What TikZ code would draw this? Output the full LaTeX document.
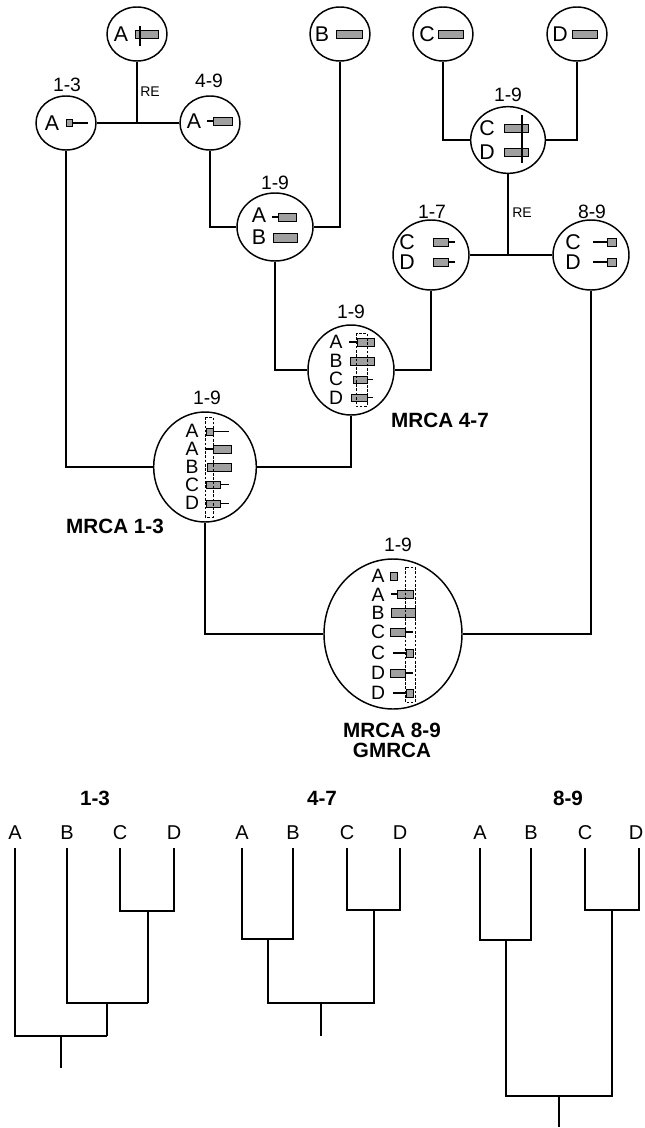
\documentclass[tikz,border=0pt]{standalone}
\usepackage{fontspec}
\setmainfont{Liberation Sans}
\usetikzlibrary{shapes.geometric}
\definecolor{barfill}{RGB}{160,160,160}
\begin{document}
\begin{tikzpicture}[x=0.75pt,y=-0.75pt,
  ell/.style={draw, ellipse, line width=1.1pt, inner sep=0pt},
  conn/.style={line width=1.5pt},
  lab/.style={font=\fontsize{14.5}{14.5}\selectfont, inner sep=0pt},
  let/.style={font=\fontsize{16}{16}\selectfont, inner sep=0pt},
  slet/.style={font=\fontsize{14.5}{14.5}\selectfont, inner sep=0pt},
  bar/.style={draw, fill=barfill, line width=0.7pt},
  tick/.style={line width=1.1pt},
  cut/.style={line width=1.6pt},
  dbox/.style={draw, line width=0.6pt, dash pattern=on 2pt off 1.2pt},
  big/.style={font=\fontsize{15.5}{15.5}\selectfont\bfseries, inner sep=0pt},
  tree/.style={line width=1.6pt},
  relab/.style={font=\fontsize{10.5}{10.5}\selectfont, inner sep=0pt},
  tlet/.style={font=\fontsize{15}{15}\selectfont, inner sep=0pt}
]
\useasboundingbox (0,0) rectangle (644,1128);

% ---------- ellipses ----------
\node[ell, minimum width=45pt, minimum height=40.5pt] (tA) at (137,34) {};
\node[ell, minimum width=45pt, minimum height=40.5pt] (tB) at (340,34) {};
\node[ell, minimum width=45pt, minimum height=40.5pt] (tC) at (443,34) {};
\node[ell, minimum width=45pt, minimum height=40.5pt] (tD) at (577,34) {};
\node[ell, minimum width=45pt, minimum height=40.5pt] (e13) at (66,123) {};
\node[ell, minimum width=45pt, minimum height=40.5pt] (e49) at (210,123) {};
\node[ell, minimum width=57pt, minimum height=51pt] (eAB) at (275,227) {};
\node[ell, minimum width=56pt, minimum height=50pt] (eCD) at (508,140) {};
\node[ell, minimum width=57pt, minimum height=52.5pt] (e17) at (431,255) {};
\node[ell, minimum width=57pt, minimum height=52.5pt] (e89) at (591,255) {};
\node[ell, minimum width=64.5pt, minimum height=67.5pt] (m47) at (351,370) {};
\node[ell, minimum width=77pt, minimum height=82.5pt] (m13) at (205,467) {};
\node[ell, minimum width=103.5pt, minimum height=112.5pt] (gm) at (393,634) {};

% ---------- connectors ----------
\draw[conn] (e13.east) -- (e49.west);
\coordinate (re1) at (tA.south |- e13.east);
\draw[conn] (tA.south) -- (re1);
\node[relab] (re1l) at (150,92) {RE};
\draw[conn] (e49.south) |- (eAB.west);
\draw[conn] (tB.south) |- (eAB.east);
\draw[conn] (tC.south) |- (eCD.west);
\draw[conn] (tD.south) |- (eCD.east);
\draw[conn] (e17.east) -- (e89.west);
\coordinate (re2) at (eCD.south |- e17.east);
\draw[conn] (eCD.south) -- (re2);
\node[relab] (re2l) at (522,213) {RE};
\draw[conn] (eAB.south) |- (m47.west);
\draw[conn] (e17.south) |- (m47.east);
\draw[conn] (e13.south) |- (m13.west);
\draw[conn] (m47.south) |- (m13.east);
\draw[conn] (m13.south) |- (gm.west);
\draw[conn] (e89.south) |- (gm.east);

% ---------- labels ----------
\node[lab] (l13) at (67,85) {1-3};
\node[lab] (l49) at (209,81) {4-9};
\node[lab] (lAB) at (275,183) {1-9};
\node[lab] (lCD) at (508,95) {1-9};
\node[lab] (l17) at (432,212) {1-7};
\node[lab] (l89) at (592,212) {8-9};
\node[lab] (l47) at (351,312) {1-9};
\node[lab] (lm13) at (207,398) {1-9};
\node[lab] (lgm) at (398,545) {1-9};
\node[big] (mr13) at (115,526) {MRCA 1-3};
\node[big] (mr47) at (440,420) {MRCA 4-7};
\node[big] (mr89) at (392,730) {MRCA 8-9};
\node[big] (gmr) at (392,750) {GMRCA};

% ---------- contents: top ----------
\node[let] (tAl) at (121,34) {A};
\filldraw[bar] (135,30.5) rectangle (158,38.5);
\draw[cut] (140,26) -- (140,46);
\node[let] (tBl) at (322,34) {B};
\filldraw[bar] (336,30.5) rectangle (362,38.5);
\node[let] (tCl) at (427,34) {C};
\filldraw[bar] (438,30.5) rectangle (463,38.5);
\node[let] (tDl) at (560,34) {D};
\filldraw[bar] (572,30.5) rectangle (597,38.5);

\node[let] (e13l) at (52,123) {A};
\filldraw[bar] (66,119.5) rectangle (72,126.5);
\draw[tick] (72,123) -- (88,123);

\node[let] (e49l) at (194,121) {A};
\draw[tick] (207,121) -- (213,121);
\filldraw[bar] (213,117) rectangle (232,125);

\node[let] (eABa) at (259,215) {A};
\draw[tick] (272,217) -- (278,217);
\filldraw[bar] (278,213) rectangle (296,221);
\node[let] (eABb) at (259,237) {B};
\filldraw[bar] (273,233) rectangle (297,242);

\node[let] (eCDc) at (487,128) {C};
\filldraw[bar] (504,124) rectangle (528,132);
\node[let] (eCDd) at (487,152) {D};
\filldraw[bar] (504,148) rectangle (528,156);
\draw[cut] (522,115) -- (522,163);

\node[let] (e17c) at (407,242) {C};
\filldraw[bar] (433,238) rectangle (448,246);
\draw[tick] (448,242) -- (455,242);
\node[let] (e17d) at (407,262) {D};
\filldraw[bar] (433,258) rectangle (448,266);
\draw[tick] (448,262) -- (455,262);

\node[let] (e89c) at (573,242) {C};
\draw[tick] (593,242) -- (607,242);
\filldraw[bar] (607,238) rectangle (616,246);
\node[let] (e89d) at (573,262) {D};
\draw[tick] (593,262) -- (607,262);
\filldraw[bar] (607,258) rectangle (616,266);

% ---------- MRCA 4-7 ----------
\node[slet] (m47a) at (336,342) {A};
\node[slet] (m47b) at (336,361) {B};
\node[slet] (m47c) at (336,379) {C};
\node[slet] (m47d) at (336,398) {D};
\draw[tick] (349,342) -- (357,342);
\filldraw[bar] (357,338) rectangle (374,346);
\filldraw[bar] (350,357) rectangle (374,365);
\filldraw[bar] (353,376) rectangle (367,383);
\draw[tick] (367,379.5) -- (373,379.5);
\filldraw[bar] (351,394) rectangle (367,401);
\draw[tick] (367,397.5) -- (373,397.5);
\draw[dbox] (356,333) rectangle (367,406);

% ---------- MRCA 1-3 ----------
\node[slet] (m13a) at (192,431) {A};
\node[slet] (m13a2) at (192,449) {A};
\node[slet] (m13b) at (192,467) {B};
\node[slet] (m13c) at (192,485) {C};
\node[slet] (m13d) at (192,503) {D};
\filldraw[bar] (206,428) rectangle (213,435);
\draw[tick] (213,431.5) -- (229,431.5);
\draw[tick] (206,449) -- (213,449);
\filldraw[bar] (213,445) rectangle (231,453);
\filldraw[bar] (207,463) rectangle (231,471);
\filldraw[bar] (206,481) rectangle (220,488);
\draw[tick] (220,484.5) -- (229,484.5);
\filldraw[bar] (206,500) rectangle (220,507);
\draw[tick] (220,503.5) -- (229,503.5);
\draw[dbox] (205,417) rectangle (213,517);

% ---------- GMRCA ----------
\node[slet] (g1) at (378,576) {A};
\node[slet] (g2) at (378,595) {A};
\node[slet] (g3) at (378,613) {B};
\node[slet] (g4) at (378,632) {C};
\node[slet] (g5) at (378,653) {C};
\node[slet] (g6) at (378,673) {D};
\node[slet] (g7) at (378,693) {D};
\filldraw[bar] (390,572) rectangle (397,580);
\draw[tick] (391,594) -- (397,594);
\filldraw[bar] (397,590) rectangle (413,598);
\filldraw[bar] (391,608) rectangle (415,617);
\filldraw[bar] (390,628) rectangle (405,636);
\draw[tick] (405,632) -- (413,632);
\draw[tick] (393,653) -- (406,653);
\filldraw[bar] (406,649) rectangle (413,657);
\filldraw[bar] (390,669) rectangle (405,677);
\draw[tick] (405,673) -- (413,673);
\draw[tick] (393,693) -- (406,693);
\filldraw[bar] (406,689) rectangle (413,697);
\draw[dbox] (405,567) rectangle (415,702);

% ---------- bottom trees ----------
\node[big] (t1) at (95,798) {1-3};
\node[big] (t2) at (322,798) {4-7};
\node[big] (t3) at (568,798) {8-9};

% tree 1-3
\node[tlet] (aA) at (15,833) {A};
\node[tlet] (aB) at (67,833) {B};
\node[tlet] (aC) at (120,833) {C};
\node[tlet] (aD) at (174,833) {D};
\coordinate (aCD) at (148,911);
\coordinate (aBCD) at (107,1003);
\coordinate (aR) at (61,1036);
\draw[tree] (120,848) |- (174,911) -- (174,848);
\draw[tree] (aCD) -- (148,1003);
\draw[tree] (67,848) |- (148,1003);
\draw[tree] (aBCD) -- (107,1036);
\draw[tree] (15,848) |- (107,1036);
\draw[tree] (aR) -- (61,1068);

% tree 4-7
\node[tlet] (bA) at (242,833) {A};
\node[tlet] (bB) at (293,833) {B};
\node[tlet] (bC) at (347,833) {C};
\node[tlet] (bD) at (400,833) {D};
\coordinate (bAB) at (268,939);
\coordinate (bCD) at (374,910);
\coordinate (bR) at (321,1003);
\draw[tree] (242,848) |- (293,939) -- (293,848);
\draw[tree] (347,848) |- (400,910) -- (400,848);
\draw[tree] (bAB) |- (bR);
\draw[tree] (bCD) |- (bR);
\draw[tree] (bR) -- (321,1036);

% tree 8-9
\node[tlet] (cA) at (480,833) {A};
\node[tlet] (cB) at (531,833) {B};
\node[tlet] (cC) at (585,833) {C};
\node[tlet] (cD) at (636,833) {D};
\coordinate (cAB) at (506,940);
\coordinate (cCD) at (612,910);
\coordinate (cR) at (559,1096);
\draw[tree] (480,848) |- (531,940) -- (531,848);
\draw[tree] (585,848) |- (639,910) -- (639,848);
\draw[tree] (cAB) |- (cR);
\draw[tree] (cCD) |- (cR);
\draw[tree] (cR) -- (559,1127);
\end{tikzpicture}
\end{document}
